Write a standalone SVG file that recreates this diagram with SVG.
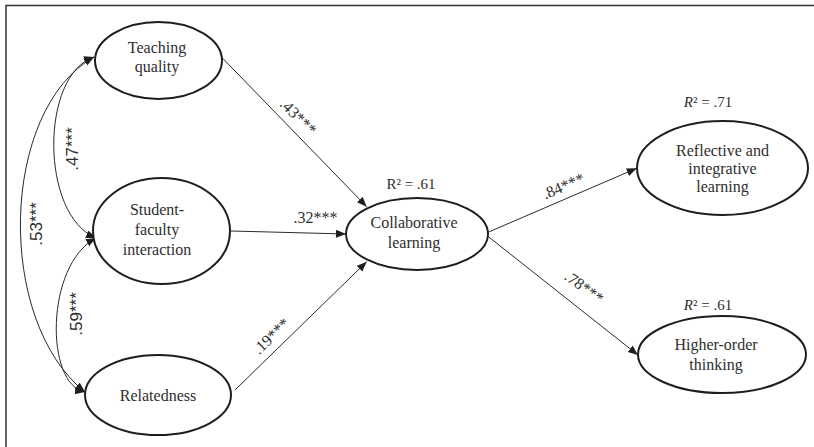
<svg xmlns="http://www.w3.org/2000/svg" width="814" height="447" viewBox="0 0 814 447">
<style>
.node ellipse{fill:#fff;stroke:#1e1e1e;stroke-width:2}
.t{font-family:"Liberation Serif","Times New Roman",serif;font-size:16px;fill:#2e2e2e;text-anchor:middle}
.r2{font-family:"Liberation Serif","Times New Roman",serif;font-size:15px;fill:#2e2e2e;text-anchor:middle}
.lbl{font-family:"Liberation Serif","Times New Roman",serif;font-size:16px;fill:#2e2e2e;text-anchor:middle}
.lbls{font-family:"Liberation Sans",Arial,sans-serif;font-size:17px;fill:#2e2e2e;text-anchor:middle}
.edge{fill:none;stroke:#2a2a2a;stroke-width:1}
.frame{stroke:#333;stroke-width:1.5;fill:none}
</style>
<defs>
<marker id="ah" markerUnits="userSpaceOnUse" markerWidth="11" markerHeight="9" refX="10" refY="4" orient="auto-start-reverse">
<path d="M0,0 L10,4 L0,8 z" fill="#1e1e1e"/>
</marker>
</defs>
<rect width="814" height="447" fill="#fff"/>
<path class="frame" d="M6,447 V5.5 H814"/>
<g id="connectors">
<path class="edge" d="M94,57 C0,110 -5,320 85,392" marker-start="url(#ah)" marker-end="url(#ah)"/>
<path class="edge" d="M94,57 C40,75 40,215 96,238" marker-start="url(#ah)" marker-end="url(#ah)"/>
<path class="edge" d="M96,238 C45,265 45,385 85,392" marker-start="url(#ah)" marker-end="url(#ah)"/>
<line class="edge" x1="222.7" y1="58.3" x2="366.7" y2="206.7" marker-end="url(#ah)"/>
<line class="edge" x1="231" y1="231" x2="346" y2="234" marker-end="url(#ah)"/>
<line class="edge" x1="235" y1="390" x2="366.7" y2="261.7" marker-end="url(#ah)"/>
<line class="edge" x1="487.5" y1="232.5" x2="636.7" y2="168.3" marker-end="url(#ah)"/>
<line class="edge" x1="487.5" y1="236" x2="638" y2="355" marker-end="url(#ah)"/>
<text class="lbls" transform="translate(77.5,149) rotate(-90)">.47***</text>
<text class="lbls" transform="translate(42,224) rotate(-90)">.53***</text>
<text class="lbls" transform="translate(81.5,314) rotate(-90)">.59***</text>
<text class="lbl" transform="translate(294.5,120.5) rotate(45)">.43***</text>
<text class="lbl" x="315.5" y="223">.32***</text>
<text class="lbl" transform="translate(275,340) rotate(-44)">.19***</text>
<text class="lbl" transform="translate(565.5,191) rotate(-23)">.84***</text>
<text class="lbl" transform="translate(581,291.5) rotate(36)">.78***</text>
</g>
<g id="teaching" class="node">
<ellipse cx="158.5" cy="60.5" rx="63.5" ry="38.5"/>
<text class="t" x="157" y="53">Teaching</text>
<text class="t" x="157" y="72">quality</text>
</g>
<g id="student" class="node">
<ellipse cx="161.5" cy="231" rx="68.5" ry="53"/>
<text class="t" x="157" y="215">Student-</text>
<text class="t" x="157" y="235">faculty</text>
<text class="t" x="157" y="255">interaction</text>
</g>
<g id="relatedness" class="node">
<ellipse cx="158" cy="395" rx="73" ry="40"/>
<text class="t" x="158" y="401">Relatedness</text>
</g>
<g id="collaborative" class="node">
<ellipse cx="417" cy="234" rx="71" ry="36"/>
<text class="t" x="414" y="228">Collaborative</text>
<text class="t" x="414" y="248">learning</text>
<text class="r2" x="411" y="189">R² = .61</text>
</g>
<g id="reflective" class="node">
<ellipse cx="722.5" cy="168" rx="85.5" ry="47"/>
<text class="t" x="722.5" y="156">Reflective and</text>
<text class="t" x="722.5" y="174">integrative</text>
<text class="t" x="722.5" y="192">learning</text>
<text class="r2" x="708" y="107"><tspan font-style="italic">R</tspan>² = .71</text>
</g>
<g id="higher" class="node">
<ellipse cx="722" cy="354.5" rx="84" ry="38.5"/>
<text class="t" x="716" y="350">Higher-order</text>
<text class="t" x="716" y="370">thinking</text>
<text class="r2" x="708" y="310"><tspan font-style="italic">R</tspan>² = .61</text>
</g>
</svg>
